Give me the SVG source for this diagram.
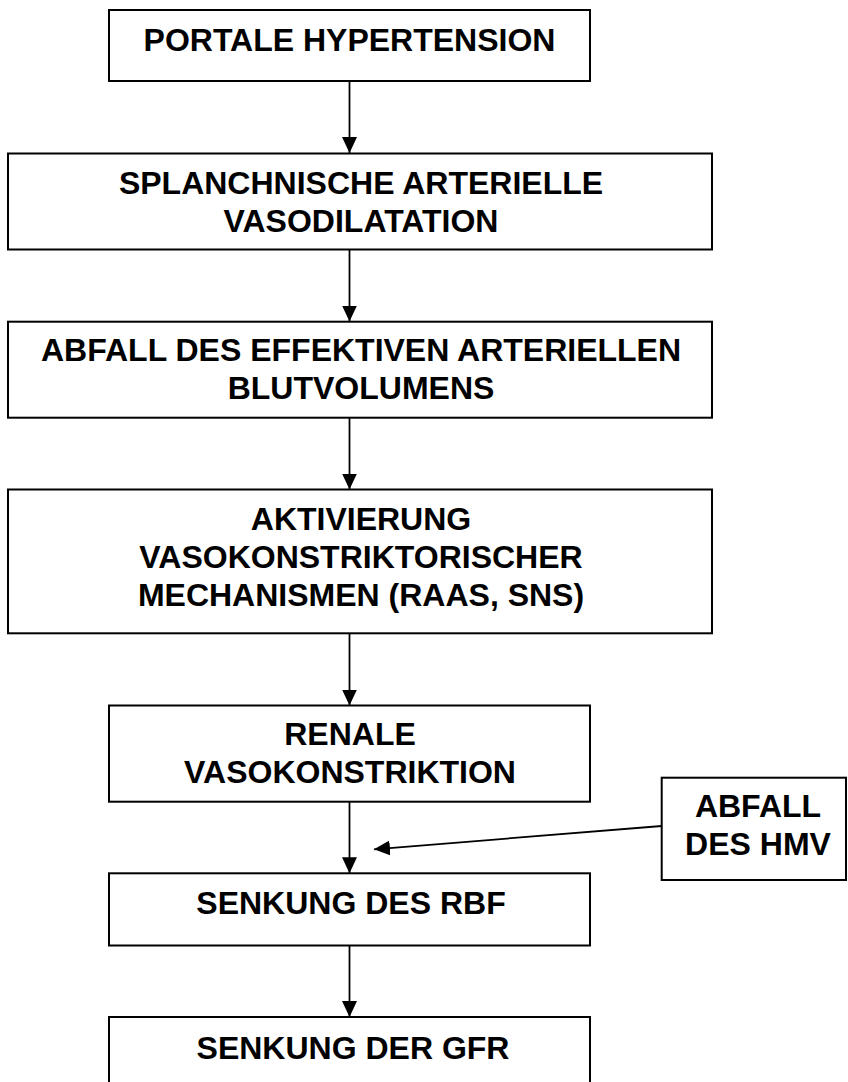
<svg xmlns="http://www.w3.org/2000/svg" width="848" height="1082" viewBox="0 0 848 1082">
  <style>
    .box { fill: #ffffff; stroke: #000000; stroke-width: 2; }
    .lbl { font-family: "Liberation Sans", Arial, Helvetica, sans-serif; font-weight: bold; font-size: 32px; fill: #000000; text-anchor: middle; }
    .conn { stroke: #000000; stroke-width: 1.8; fill: none; marker-end: url(#arrow); }
  </style>
  <defs>
    <marker id="arrow" viewBox="0 0 16 15" refX="16" refY="7.5" markerWidth="16" markerHeight="15" markerUnits="userSpaceOnUse" orient="auto">
      <path d="M0,0 L16,7.5 L0,15 z" fill="#000000"/>
    </marker>
  </defs>
  <rect width="848" height="1082" fill="#ffffff"/>

  <g id="connectors">
    <line class="conn" x1="349.5" y1="81" x2="349.5" y2="153"/>
    <line class="conn" x1="349.5" y1="249.5" x2="349.5" y2="321.5"/>
    <line class="conn" x1="349.5" y1="417.7" x2="349.5" y2="489.5"/>
    <line class="conn" x1="349.5" y1="633.3" x2="349.5" y2="705.5"/>
    <line class="conn" x1="349.5" y1="801.7" x2="349.5" y2="873.3"/>
    <line class="conn" x1="349.5" y1="945.5" x2="349.5" y2="1017"/>
    <line class="conn" x1="661.7" y1="826" x2="374" y2="849.3"/>
  </g>

  <g id="node-portale">
    <rect class="box" x="109" y="10" width="481" height="71"/>
    <text class="lbl" x="349.5" y="51">PORTALE HYPERTENSION</text>
  </g>

  <g id="node-splanchnische">
    <rect class="box" x="8" y="153.5" width="704" height="96"/>
    <text class="lbl" x="361" y="194">SPLANCHNISCHE ARTERIELLE</text>
    <text class="lbl" x="361" y="232">VASODILATATION</text>
  </g>

  <g id="node-abfall-volumen">
    <rect class="box" x="8" y="321.7" width="704" height="96"/>
    <text class="lbl" x="361" y="361">ABFALL DES EFFEKTIVEN ARTERIELLEN</text>
    <text class="lbl" x="361" y="399">BLUTVOLUMENS</text>
  </g>

  <g id="node-aktivierung">
    <rect class="box" x="8" y="489.5" width="704" height="143.8"/>
    <text class="lbl" x="361" y="529.5">AKTIVIERUNG</text>
    <text class="lbl" x="361" y="568">VASOKONSTRIKTORISCHER</text>
    <text class="lbl" x="361" y="606">MECHANISMEN (RAAS, SNS)</text>
  </g>

  <g id="node-renale">
    <rect class="box" x="109" y="705.5" width="481" height="96.2"/>
    <text class="lbl" x="350" y="745">RENALE</text>
    <text class="lbl" x="350" y="783">VASOKONSTRIKTION</text>
  </g>

  <g id="node-hmv">
    <rect class="box" x="661.7" y="777.7" width="184.3" height="102.3"/>
    <text class="lbl" x="758" y="817">ABFALL</text>
    <text class="lbl" x="758" y="855">DES HMV</text>
  </g>

  <g id="node-rbf">
    <rect class="box" x="109" y="873.3" width="481" height="72.2"/>
    <text class="lbl" x="351" y="914">SENKUNG DES RBF</text>
  </g>

  <g id="node-gfr">
    <rect class="box" x="109" y="1017" width="481" height="80"/>
    <text class="lbl" x="353" y="1059">SENKUNG DER GFR</text>
  </g>
</svg>
